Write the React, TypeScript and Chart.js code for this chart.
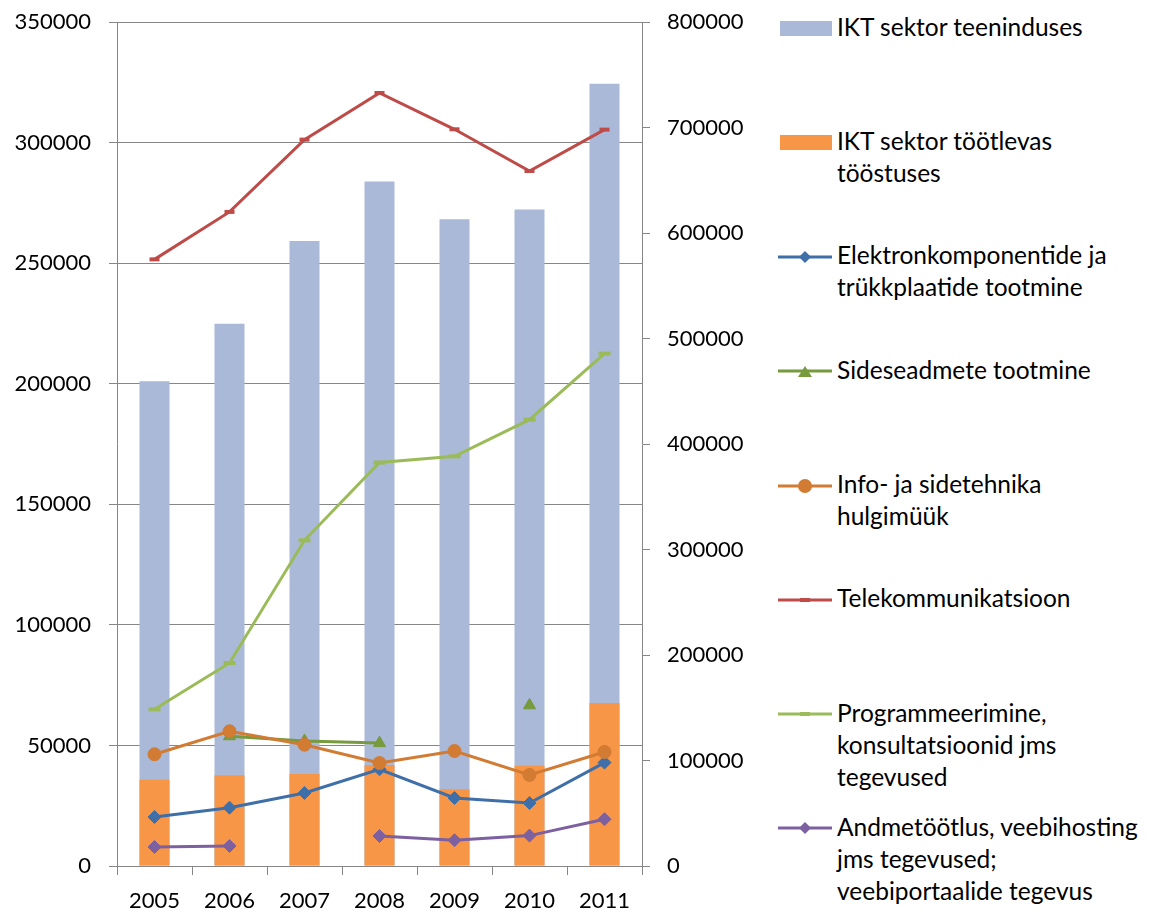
import React, { useEffect, useRef } from 'react';
import { Chart, registerables } from 'chart.js';

Chart.register(...registerables);

// ---- Data ----
const years = ['2005', '2006', '2007', '2008', '2009', '2010', '2011'];

// Bars (left axis)
const ictServices = [201000, 224900, 259200, 283900, 268200, 272200, 324400];
const ictManufacturing = [35800, 37600, 38200, 41900, 31800, 41600, 67600];

// Lines (right axis)
const electronicComponents = [46400, 55300, 69200, 91700, 64500, 59700, 98000];
const commEquipment = [null, 123000, 118500, 116500, null, 152300, null];
const ictWholesale = [105900, 127700, 115000, 97600, 109000, 86300, 108100];
const telecom = [575000, 620000, 688500, 732700, 698300, 658800, 698000];
const programming = [148500, 192400, 308700, 382400, 388300, 423100, 485700];
const dataProcessing = [18000, 19000, null, 28400, 24400, 28800, 44300];

const leftAxis = { min: 0, max: 350000, step: 50000 };
const rightAxis = { min: 0, max: 800000, step: 100000 };

const labels = {
  ictServices: ['IKT sektor teeninduses'],
  ictManufacturing: ['IKT sektor töötlevas', 'tööstuses'],
  electronicComponents: ['Elektronkomponentide ja', 'trükkplaatide tootmine'],
  commEquipment: ['Sideseadmete tootmine'],
  ictWholesale: ['Info- ja sidetehnika', 'hulgimüük'],
  telecom: ['Telekommunikatsioon'],
  programming: ['Programmeerimine,', 'konsultatsioonid jms', 'tegevused'],
  dataProcessing: ['Andmetöötlus, veebihosting', 'jms tegevused;', 'veebiportaalide tegevus'],
};

// ---- Styles ----
const C = {
  services: '#AAB9D7',
  manufacturing: '#F79646',
  electronic: '#3F6FA8',
  comm: '#779A3D',
  wholesale: '#D27B32',
  telecom: '#BE4B48',
  programming: '#9BBB59',
  data: '#7D60A0',
  grid: '#868686',
};

const FONT = 'Lato';

type LegendItem = {
  lines: string[];
  kind: 'bar' | 'line';
  color: string;
  marker?: 'diamond' | 'triangle' | 'circle' | 'dash';
};

const legendItems: LegendItem[] = [
  { lines: labels.ictServices, kind: 'bar', color: C.services },
  { lines: labels.ictManufacturing, kind: 'bar', color: C.manufacturing },
  { lines: labels.electronicComponents, kind: 'line', color: C.electronic, marker: 'diamond' },
  { lines: labels.commEquipment, kind: 'line', color: C.comm, marker: 'triangle' },
  { lines: labels.ictWholesale, kind: 'line', color: C.wholesale, marker: 'circle' },
  { lines: labels.telecom, kind: 'line', color: C.telecom, marker: 'dash' },
  { lines: labels.programming, kind: 'line', color: C.programming, marker: 'dash' },
  { lines: labels.dataProcessing, kind: 'line', color: C.data, marker: 'diamond' },
];

function Symbol({ item }: { item: LegendItem }) {
  if (item.kind === 'bar') {
    return (
      <svg width={52} height={15} style={{ display: 'block' }}>
        <rect x={0} y={0} width={52} height={15} fill={item.color} />
      </svg>
    );
  }
  const cx = 28;
  const cy = 10;
  let marker: React.ReactNode = null;
  if (item.marker === 'diamond') {
    marker = <polygon points={`${cx - 6},${cy} ${cx},${cy - 6} ${cx + 6},${cy} ${cx},${cy + 6}`} fill={item.color} />;
  } else if (item.marker === 'triangle') {
    marker = <polygon points={`${cx},${cy - 5} ${cx + 7},${cy + 6} ${cx - 7},${cy + 6}`} fill={item.color} />;
  } else if (item.marker === 'circle') {
    marker = <circle cx={cx} cy={cy} r={7} fill={item.color} />;
  } else if (item.marker === 'dash') {
    marker = <rect x={cx - 5} y={cy - 2} width={10} height={4} fill={item.color} />;
  }
  return (
    <svg width={56} height={20} style={{ display: 'block' }}>
      <line x1={1} y1={cy} x2={55} y2={cy} stroke={item.color} strokeWidth={3} />
      {marker}
    </svg>
  );
}

export default function App() {
  const canvasRef = useRef<HTMLCanvasElement | null>(null);

  useEffect(() => {
    const canvas = canvasRef.current;
    if (!canvas) return;
    const tickFont = { family: FONT, size: 22 };

    const lineDs = (label: string, data: (number | null)[], color: string, pointStyle: any, radius: number, order: number, pbw = 1) => ({
      type: 'line' as const,
      label,
      data,
      yAxisID: 'y1',
      borderColor: color,
      backgroundColor: color,
      borderWidth: 3,
      pointStyle,
      pointRadius: radius,
      pointBackgroundColor: color,
      pointBorderColor: color,
      pointBorderWidth: pbw,
      spanGaps: false,
      tension: 0,
      order,
    });

    const chart = new Chart(canvas, {
      type: 'bar',
      data: {
        labels: years,
        datasets: [
          {
            type: 'bar',
            label: labels.ictServices.join(' '),
            data: ictServices,
            yAxisID: 'y',
            backgroundColor: C.services,
            grouped: false,
            categoryPercentage: 1,
            barPercentage: 0.4,
            order: 20,
          } as any,
          {
            type: 'bar',
            label: labels.ictManufacturing.join(' '),
            data: ictManufacturing,
            yAxisID: 'y',
            backgroundColor: C.manufacturing,
            grouped: false,
            categoryPercentage: 1,
            barPercentage: 0.4,
            order: 19,
          } as any,
          lineDs(labels.electronicComponents.join(' '), electronicComponents, C.electronic, 'rectRot', 6.5, 6),
          lineDs(labels.commEquipment.join(' '), commEquipment, C.comm, 'triangle', 7, 5),
          lineDs(labels.ictWholesale.join(' '), ictWholesale, C.wholesale, 'circle', 6.5, 4),
          lineDs(labels.telecom.join(' '), telecom, C.telecom, 'line', 5, 3, 4),
          lineDs(labels.programming.join(' '), programming, C.programming, 'line', 6, 2, 4),
          lineDs(labels.dataProcessing.join(' '), dataProcessing, C.data, 'rectRot', 6.5, 1),
        ] as any,
      },
      options: {
        responsive: false,
        animation: false,
        layout: { padding: { top: 22, left: 0, right: 0, bottom: 0 } },
        plugins: {
          legend: { display: false },
          tooltip: { enabled: false },
        },
        scales: {
          x: {
            offset: true,
            grid: {
              offset: true,
              drawOnChartArea: false,
              drawTicks: true,
              tickLength: 9,
              color: C.grid,
              lineWidth: 1,
            },
            border: { display: true, color: C.grid },
            ticks: { font: tickFont, color: '#000', padding: 13, maxRotation: 0, autoSkip: false },
            afterFit: (s: any) => {
              s.height = 45;
              s.paddingLeft = 0;
              s.paddingRight = 0;
            },
          },
          y: {
            position: 'left',
            min: leftAxis.min,
            max: leftAxis.max,
            ticks: {
              stepSize: leftAxis.step,
              font: tickFont,
              color: '#000',
              padding: 18,
              callback: (v: any) => String(v),
            },
            grid: { color: C.grid, tickLength: 8, drawTicks: true, lineWidth: 1 },
            border: { display: true, color: C.grid },
            afterFit: (s: any) => {
              s.width = 117;
              s.paddingTop = 0;
              s.paddingBottom = 0;
            },
          },
          y1: {
            position: 'right',
            min: rightAxis.min,
            max: rightAxis.max,
            ticks: {
              stepSize: rightAxis.step,
              font: tickFont,
              color: '#000',
              padding: 17,
              callback: (v: any) => String(v),
            },
            grid: { drawOnChartArea: false, color: C.grid, tickLength: 8, drawTicks: true, lineWidth: 1 },
            border: { display: true, color: C.grid },
            afterFit: (s: any) => {
              s.width = 118;
              s.paddingTop = 0;
              s.paddingBottom = 0;
            },
          },
        },
      } as any,
    });
    return () => chart.destroy();
  }, []);

  const legendTop0 = 28.3;
  const legendStep = 114.3;

  return (
    <div
      style={{
        position: 'absolute',
        left: 0,
        top: 0,
        width: 1150,
        height: 911,
        background: '#fff',
        fontFamily: FONT,
        overflow: 'hidden',
      }}
    >
      <canvas ref={canvasRef} width={760} height={911} style={{ position: 'absolute', left: 0, top: 0, width: 760, height: 911 }} />
      {legendItems.map((item, i) => {
        const yc = legendTop0 + legendStep * i;
        return (
          <React.Fragment key={i}>
            <div
              style={{
                position: 'absolute',
                left: item.kind === 'bar' ? 780 : 777,
                top: item.kind === 'bar' ? yc - 7.5 : yc - 10,
              }}
            >
              <Symbol item={item} />
            </div>
            <div
              style={{
                position: 'absolute',
                left: 837,
                top: yc - 17.5,
                fontSize: 24.5,
                lineHeight: '32px',
                color: '#000',
                whiteSpace: 'nowrap',
              }}
            >
              {item.lines.map((l, j) => (
                <div key={j}>{l}</div>
              ))}
            </div>
          </React.Fragment>
        );
      })}
    </div>
  );
}
